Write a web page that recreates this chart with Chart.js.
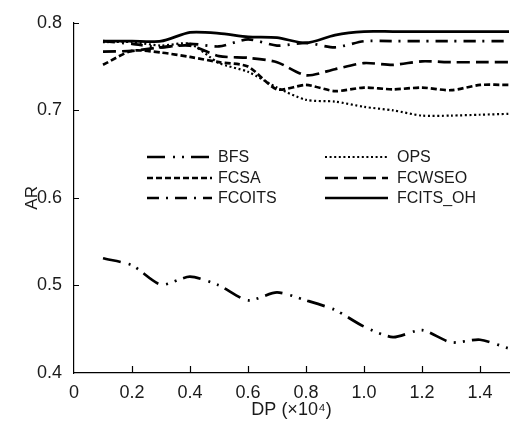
<!DOCTYPE html>
<html>
<head>
<meta charset="utf-8">
<script src="https://cdn.jsdelivr.net/npm/chart.js@4.4.1/dist/chart.umd.min.js"></script>
<style>
html,body{margin:0;padding:0;background:#fff;}
#wrap{width:510px;height:421px;position:relative;}
</style>
</head>
<body>
<div id="wrap"><canvas id="c" width="510" height="421"></canvas></div>
<script>
// ---- data ----
const dp = [0.1,0.2,0.3,0.4,0.5,0.6,0.7,0.8,0.9,1.0,1.1,1.2,1.3,1.4,1.5];
const seriesNames = ['BFS','OPS','FCSA','FCWSEO','FCOITS','FCITS_OH'];
const BFS      = [0.531,0.523,0.501,0.510,0.500,0.483,0.492,0.483,0.472,0.453,0.441,0.449,0.435,0.438,0.428];
const OPS      = [0.778,0.778,0.774,0.776,0.754,0.744,0.726,0.712,0.710,0.704,0.700,0.694,0.694,0.695,0.696];
const FCSA     = [0.752,0.768,0.766,0.761,0.755,0.750,0.724,0.729,0.722,0.726,0.724,0.726,0.723,0.729,0.729];
const FCWSEO   = [0.767,0.768,0.772,0.774,0.762,0.760,0.755,0.740,0.747,0.754,0.752,0.756,0.755,0.755,0.755];
const FCOITS   = [0.779,0.776,0.772,0.776,0.773,0.781,0.774,0.777,0.772,0.779,0.779,0.779,0.779,0.779,0.779];
const FCITS_OH = [0.779,0.779,0.779,0.789,0.788,0.784,0.783,0.777,0.786,0.790,0.790,0.790,0.790,0.790,0.790];
const xTicks = [0,0.2,0.4,0.6,0.8,1.0,1.2,1.4];
const yTicks = [0.4,0.5,0.6,0.7,0.8];

// ---- styles ----
const allValues = [BFS,OPS,FCSA,FCWSEO,FCOITS,FCITS_OH];
const dashes = [[18,8,2,7,2,7],[2,2.6],[6,3],[13,6],[12,7,2,7],[]];
const widths = [2.7,2.2,2.7,2.7,2.7,2.7];
const FONT = '"Liberation Sans", Arial, sans-serif';

const datasets = seriesNames.map((n,i)=>({
  label:n,
  data: dp.map((x,j)=>({x:x,y:allValues[i][j]})),
  borderColor:'#000',
  backgroundColor:'#000',
  borderWidth:widths[i],
  borderDash:dashes[i],
  pointRadius:0,
  tension:0.25,
  fill:false,
  clip:4
}));

const inwardTicks = {
  id:'inwardTicks',
  afterDraw(chart){
    const ctx = chart.ctx, xs = chart.scales.x, ys = chart.scales.y;
    const ca = chart.chartArea;
    ctx.save();
    ctx.strokeStyle='#000'; ctx.lineWidth=1.2; ctx.setLineDash([]);
    ctx.beginPath();
    xTicks.forEach(v=>{ if(v===0) return; const px=Math.round(xs.getPixelForValue(v))+0.5; ctx.moveTo(px,ca.bottom); ctx.lineTo(px,ca.bottom-7); });
    yTicks.forEach(v=>{ if(v===0.4) return; const py=Math.round(ys.getPixelForValue(v))+0.5; ctx.moveTo(ca.left,py); ctx.lineTo(ca.left+5,py); });
    ctx.stroke();
    // legend
    const colX=[147,325], colW=[65,63], textX=[218,397], rowY=[157,178,198];
    ctx.font='16px '+FONT; ctx.fillStyle='#1a1a1a'; ctx.textBaseline='middle'; ctx.textAlign='left';
    chart.data.datasets.forEach((ds,i)=>{
      const r=Math.floor(i/2), c=i%2;
      ctx.save();
      ctx.strokeStyle='#000'; ctx.lineWidth=ds.borderWidth; ctx.setLineDash(ds.borderDash);
      ctx.beginPath(); ctx.moveTo(colX[c],rowY[r]); ctx.lineTo(colX[c]+colW[c],rowY[r]); ctx.stroke();
      ctx.restore();
      ctx.fillText(ds.label,textX[c],rowY[r]+1);
    });
    ctx.restore();
  }
};

new Chart(document.getElementById('c'),{
  type:'line',
  data:{datasets:datasets},
  options:{
    responsive:false,
    animation:false,
    events:[],
    layout:{padding:{left:0,right:1,top:18,bottom:0}},
    plugins:{legend:{display:false},tooltip:{enabled:false}},
    scales:{
      x:{
        type:'linear', min:0, max:1.5,
        afterBuildTicks(s){ s.ticks = xTicks.map(v=>({value:v})); },
        afterFit(s){ s.height=48; },
        ticks:{font:{size:18,family:FONT},color:'#1a1a1a',padding:9,maxRotation:0,autoSkip:false,
          callback:(v)=> v===0 ? '0' : Number(v).toFixed(1)},
        grid:{display:false,drawTicks:false},
        border:{display:true,color:'#000',width:1.2},
        title:{display:true,text:'DP (×10⁴)',font:{size:18,family:FONT},color:'#1a1a1a',padding:{top:0,bottom:0}}
      },
      y:{
        type:'linear', min:0.4, max:0.8,
        afterBuildTicks(s){ s.ticks = yTicks.map(v=>({value:v})); },
        afterFit(s){ s.width=74; },
        ticks:{font:{size:18,family:FONT},color:'#1a1a1a',padding:12,autoSkip:false,
          callback:(v)=> Number(v).toFixed(1)},
        grid:{display:false,drawTicks:false},
        border:{display:true,color:'#000',width:1.2},
        title:{display:true,text:'AR',font:{size:17,family:FONT},color:'#1a1a1a',padding:{top:22,bottom:0}}
      }
    }
  },
  plugins:[inwardTicks]
});
</script>
</body>
</html>
